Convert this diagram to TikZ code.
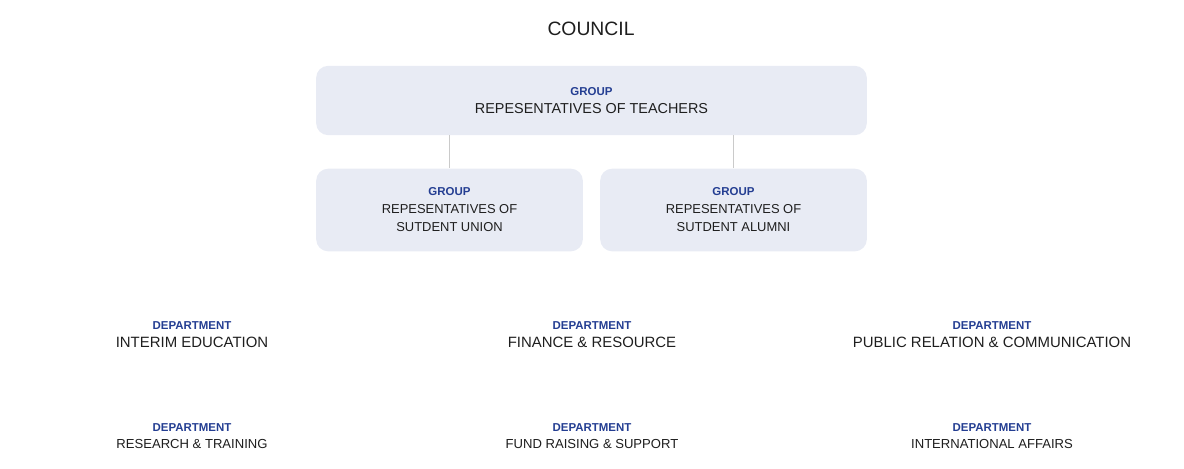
\documentclass[tikz,border=0pt]{standalone}
\usepackage{fontspec}
\setmainfont{Liberation Sans}
\usetikzlibrary{positioning}
\definecolor{BoxFill}{RGB}{232,235,244}
\definecolor{TagBlue}{RGB}{36,62,146}
\definecolor{InkGray}{RGB}{30,30,30}
\definecolor{LinkGray}{RGB}{202,202,202}
\newcommand{\grouptag}[1]{{\fontsize{8.6}{13.5}\selectfont\bfseries\color{TagBlue}#1}}

\begin{document}
\begin{tikzpicture}[x=0.75pt, y=-0.75pt, every node/.style={align=center, text=InkGray}]
\tikzset{
  bigbox/.style={fill=BoxFill, rounded corners=9pt, minimum width=413pt, minimum height=52pt, font=\fontsize{10.8}{13.5}\selectfont},
  smallbox/.style={fill=BoxFill, rounded corners=9pt, minimum width=200pt, minimum height=62pt, font=\fontsize{9.7}{13.5}\selectfont},
  depttop/.style={font=\fontsize{11.2}{13.5}\selectfont},
  deptlow/.style={font=\fontsize{9.8}{12.75}\selectfont},
  link/.style={LinkGray, line width=1.1pt}
}
  \useasboundingbox (0,0) rectangle (1184,468);
  \node[font=\fontsize{14.5}{17}\selectfont] (council) at (591,29) {COUNCIL};
  \node[bigbox] (teachers) at (591.5,100.5) {\grouptag{GROUP}\\REPESENTATIVES OF TEACHERS};
  \node[smallbox] (sunion) at (449.5,210) {\grouptag{GROUP}\\REPESENTATIVES OF\\SUTDENT UNION};
  \node[smallbox] (salumni) at (733.5,210) {\grouptag{GROUP}\\REPESENTATIVES OF\\SUTDENT ALUMNI};
  \draw[link] (sunion.north |- teachers.south) -- (sunion.north);
  \draw[link] (salumni.north |- teachers.south) -- (salumni.north);
  % departments
  \node[depttop] (interim) at (192,334.5) {\grouptag{DEPARTMENT}\\INTERIM EDUCATION};
  \node[depttop] (finance) at (592,334.5) {\grouptag{DEPARTMENT}\\FINANCE \& RESOURCE};
  \node[depttop] (public) at (992,334.5) {\grouptag{DEPARTMENT}\\PUBLIC RELATION \& COMMUNICATION};
  \node[deptlow] (research) at (192,436) {\grouptag{DEPARTMENT}\\RESEARCH \& TRAINING};
  \node[deptlow] (fund) at (592,436) {\grouptag{DEPARTMENT}\\FUND RAISING \& SUPPORT};
  \node[deptlow] (intl) at (992,436) {\grouptag{DEPARTMENT}\\INTERNATIONAL AFFAIRS};
\end{tikzpicture}
\end{document}
